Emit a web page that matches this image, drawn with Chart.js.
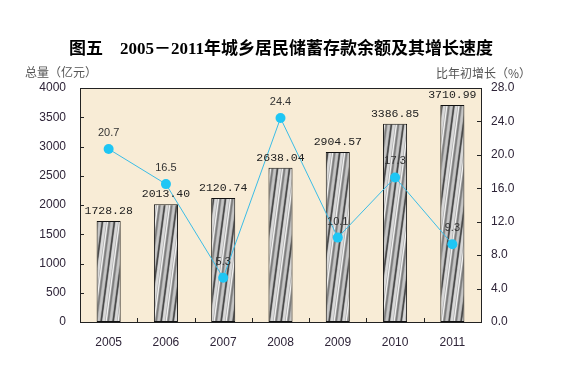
<!DOCTYPE html>
<html>
<head>
<meta charset="utf-8">
<script src="https://cdn.jsdelivr.net/npm/chart.js@4/dist/chart.umd.min.js"></script>
<style>
html,body{margin:0;padding:0;background:#fff;}
canvas{display:block;}
</style>
</head>
<body>
<canvas id="c" width="561" height="391"></canvas>
<script>
const years = ['2005', '2006', '2007', '2008', '2009', '2010', '2011'];
const balances = [1728.28, 2013.40, 2120.74, 2638.04, 2904.57, 3386.85, 3710.99];
const growth = [20.7, 16.5, 5.3, 24.4, 10.1, 17.3, 9.3];
const titleText = '图五　2005－2011年城乡居民储蓄存款余额及其增长速度';
const leftTitle = '总量（亿元）';
const rightTitle = '比年初增长（%）';

const canvas = document.getElementById('c');
const ctx = canvas.getContext('2d');

function makePattern() {
  const W = 12, H = 90;
  const c = document.createElement('canvas');
  c.width = W; c.height = H;
  const g = c.getContext('2d');
  g.fillStyle = '#a9a9a9';
  g.fillRect(0, 0, W, H);
  const stripes = [[0, '#4a4a4a', 1.6], [2.5, '#d8d8d8', 2.4], [5, '#f2f2f2', 1.2], [7, '#7c7c7c', 1.5], [9.5, '#c6c6c6', 2]];
  for (const [x, col, w] of stripes) {
    g.strokeStyle = col; g.lineWidth = w;
    for (const dx of [-W, 0, W]) {
      g.beginPath();
      g.moveTo(x + dx, H);
      g.lineTo(x + dx + W, 0);
      g.stroke();
    }
  }
  return ctx.createPattern(c, 'repeat');
}

const decor = {
  id: 'decor',
  beforeDraw(chart) {
    const a = chart.chartArea, c = chart.ctx;
    c.save();
    c.fillStyle = '#f8ecd6';
    c.fillRect(a.left, a.top, a.right - a.left, a.bottom - a.top);
    c.restore();
  },
  afterDatasetsDraw(chart) {
    const a = chart.chartArea, c = chart.ctx;
    c.save();
    c.strokeStyle = '#222';
    c.lineWidth = 1;
    c.strokeRect(Math.round(a.left) + 0.5, Math.round(a.top) + 0.5, Math.round(a.right - a.left), Math.round(a.bottom - a.top));
    const yl = chart.scales.y, yr = chart.scales.y1;
    c.beginPath();
    yl.ticks.forEach(t => { const y = Math.round(yl.getPixelForValue(t.value)) + 0.5; c.moveTo(a.left, y); c.lineTo(a.left + 4, y); });
    yr.ticks.forEach(t => { const y = Math.round(yr.getPixelForValue(t.value)) + 0.5; c.moveTo(a.right, y); c.lineTo(a.right - 4, y); });
    const cw = (a.right - a.left) / years.length;
    for (let k = 1; k < years.length; k++) { const x = Math.round(a.left + k * cw) + 0.5; c.moveTo(x, a.bottom); c.lineTo(x, a.bottom - 4); }
    c.stroke();
    const barMeta = chart.getDatasetMeta(0);
    c.fillStyle = '#222';
    c.textAlign = 'center';
    c.textBaseline = 'alphabetic';
    c.font = '11.5px "Liberation Mono", "DejaVu Sans Mono", monospace';
    barMeta.data.forEach((el, i) => {
      c.fillText(balances[i].toFixed(2), el.x, el.y - 7);
    });
    c.restore();
  },
  afterDraw(chart) {
    const c = chart.ctx;
    c.save();
    const lineMeta = chart.getDatasetMeta(1);
    c.fillStyle = '#333';
    c.textAlign = 'center';
    c.textBaseline = 'middle';
    c.font = '11px "Liberation Sans", Arial, sans-serif';
    lineMeta.data.forEach((el, i) => {
      c.fillText(growth[i].toFixed(1), el.x, el.y - 16);
    });
    c.fillStyle = '#000';
    c.font = 'bold 17px "Liberation Serif", "Noto Sans CJK SC", serif';
    c.textAlign = 'center';
    c.fillText(titleText, 281, 50);
    c.fillStyle = '#555';
    c.font = '12px "Noto Sans CJK SC", sans-serif';
    c.textAlign = 'left';
    c.fillText(leftTitle, 25, 72);
    c.textAlign = 'right';
    c.fillText(rightTitle, 531, 73);
    c.restore();
  }
};

const tickFont = { family: '"Liberation Sans", Arial, sans-serif', size: 12 };
const tickColor = '#2e2438';

new Chart(ctx, {
  type: 'bar',
  data: {
    labels: years,
    datasets: [
      {
        type: 'bar',
        data: balances,
        yAxisID: 'y',
        backgroundColor: makePattern(),
        borderColor: '#111',
        borderWidth: 1,
        borderSkipped: false,
        categoryPercentage: 1,
        barPercentage: 0.42,
        order: 2
      },
      {
        type: 'line',
        data: growth,
        yAxisID: 'y1',
        borderColor: '#3bbde6',
        borderWidth: 1,
        pointBackgroundColor: '#1ec6f4',
        pointBorderColor: '#1ec6f4',
        pointRadius: 5,
        pointBorderWidth: 0,
        tension: 0,
        order: 1
      }
    ]
  },
  options: {
    responsive: false,
    animation: false,
    devicePixelRatio: 1,
    layout: { padding: { top: 88, left: 0, right: 0, bottom: 0 } },
    plugins: { legend: { display: false }, tooltip: { enabled: false }, title: { display: false } },
    scales: {
      x: {
        grid: { display: false, drawTicks: false },
        border: { display: false },
        ticks: { font: tickFont, color: tickColor, padding: 13, maxRotation: 0 },
        afterFit(s) { s.height = 69; }
      },
      y: {
        position: 'left',
        min: 0, max: 4000,
        grid: { display: false, drawTicks: false },
        border: { display: false },
        ticks: { stepSize: 500, font: tickFont, color: tickColor, padding: 14, callback: v => String(v) },
        afterFit(s) { s.width = 80; }
      },
      y1: {
        position: 'right',
        min: 0, max: 28,
        grid: { display: false, drawTicks: false },
        border: { display: false },
        ticks: { stepSize: 4, font: tickFont, color: tickColor, padding: 10, callback: v => Number(v).toFixed(1) },
        afterFit(s) { s.width = 80; }
      }
    }
  },
  plugins: [decor]
});
</script>
</body>
</html>
